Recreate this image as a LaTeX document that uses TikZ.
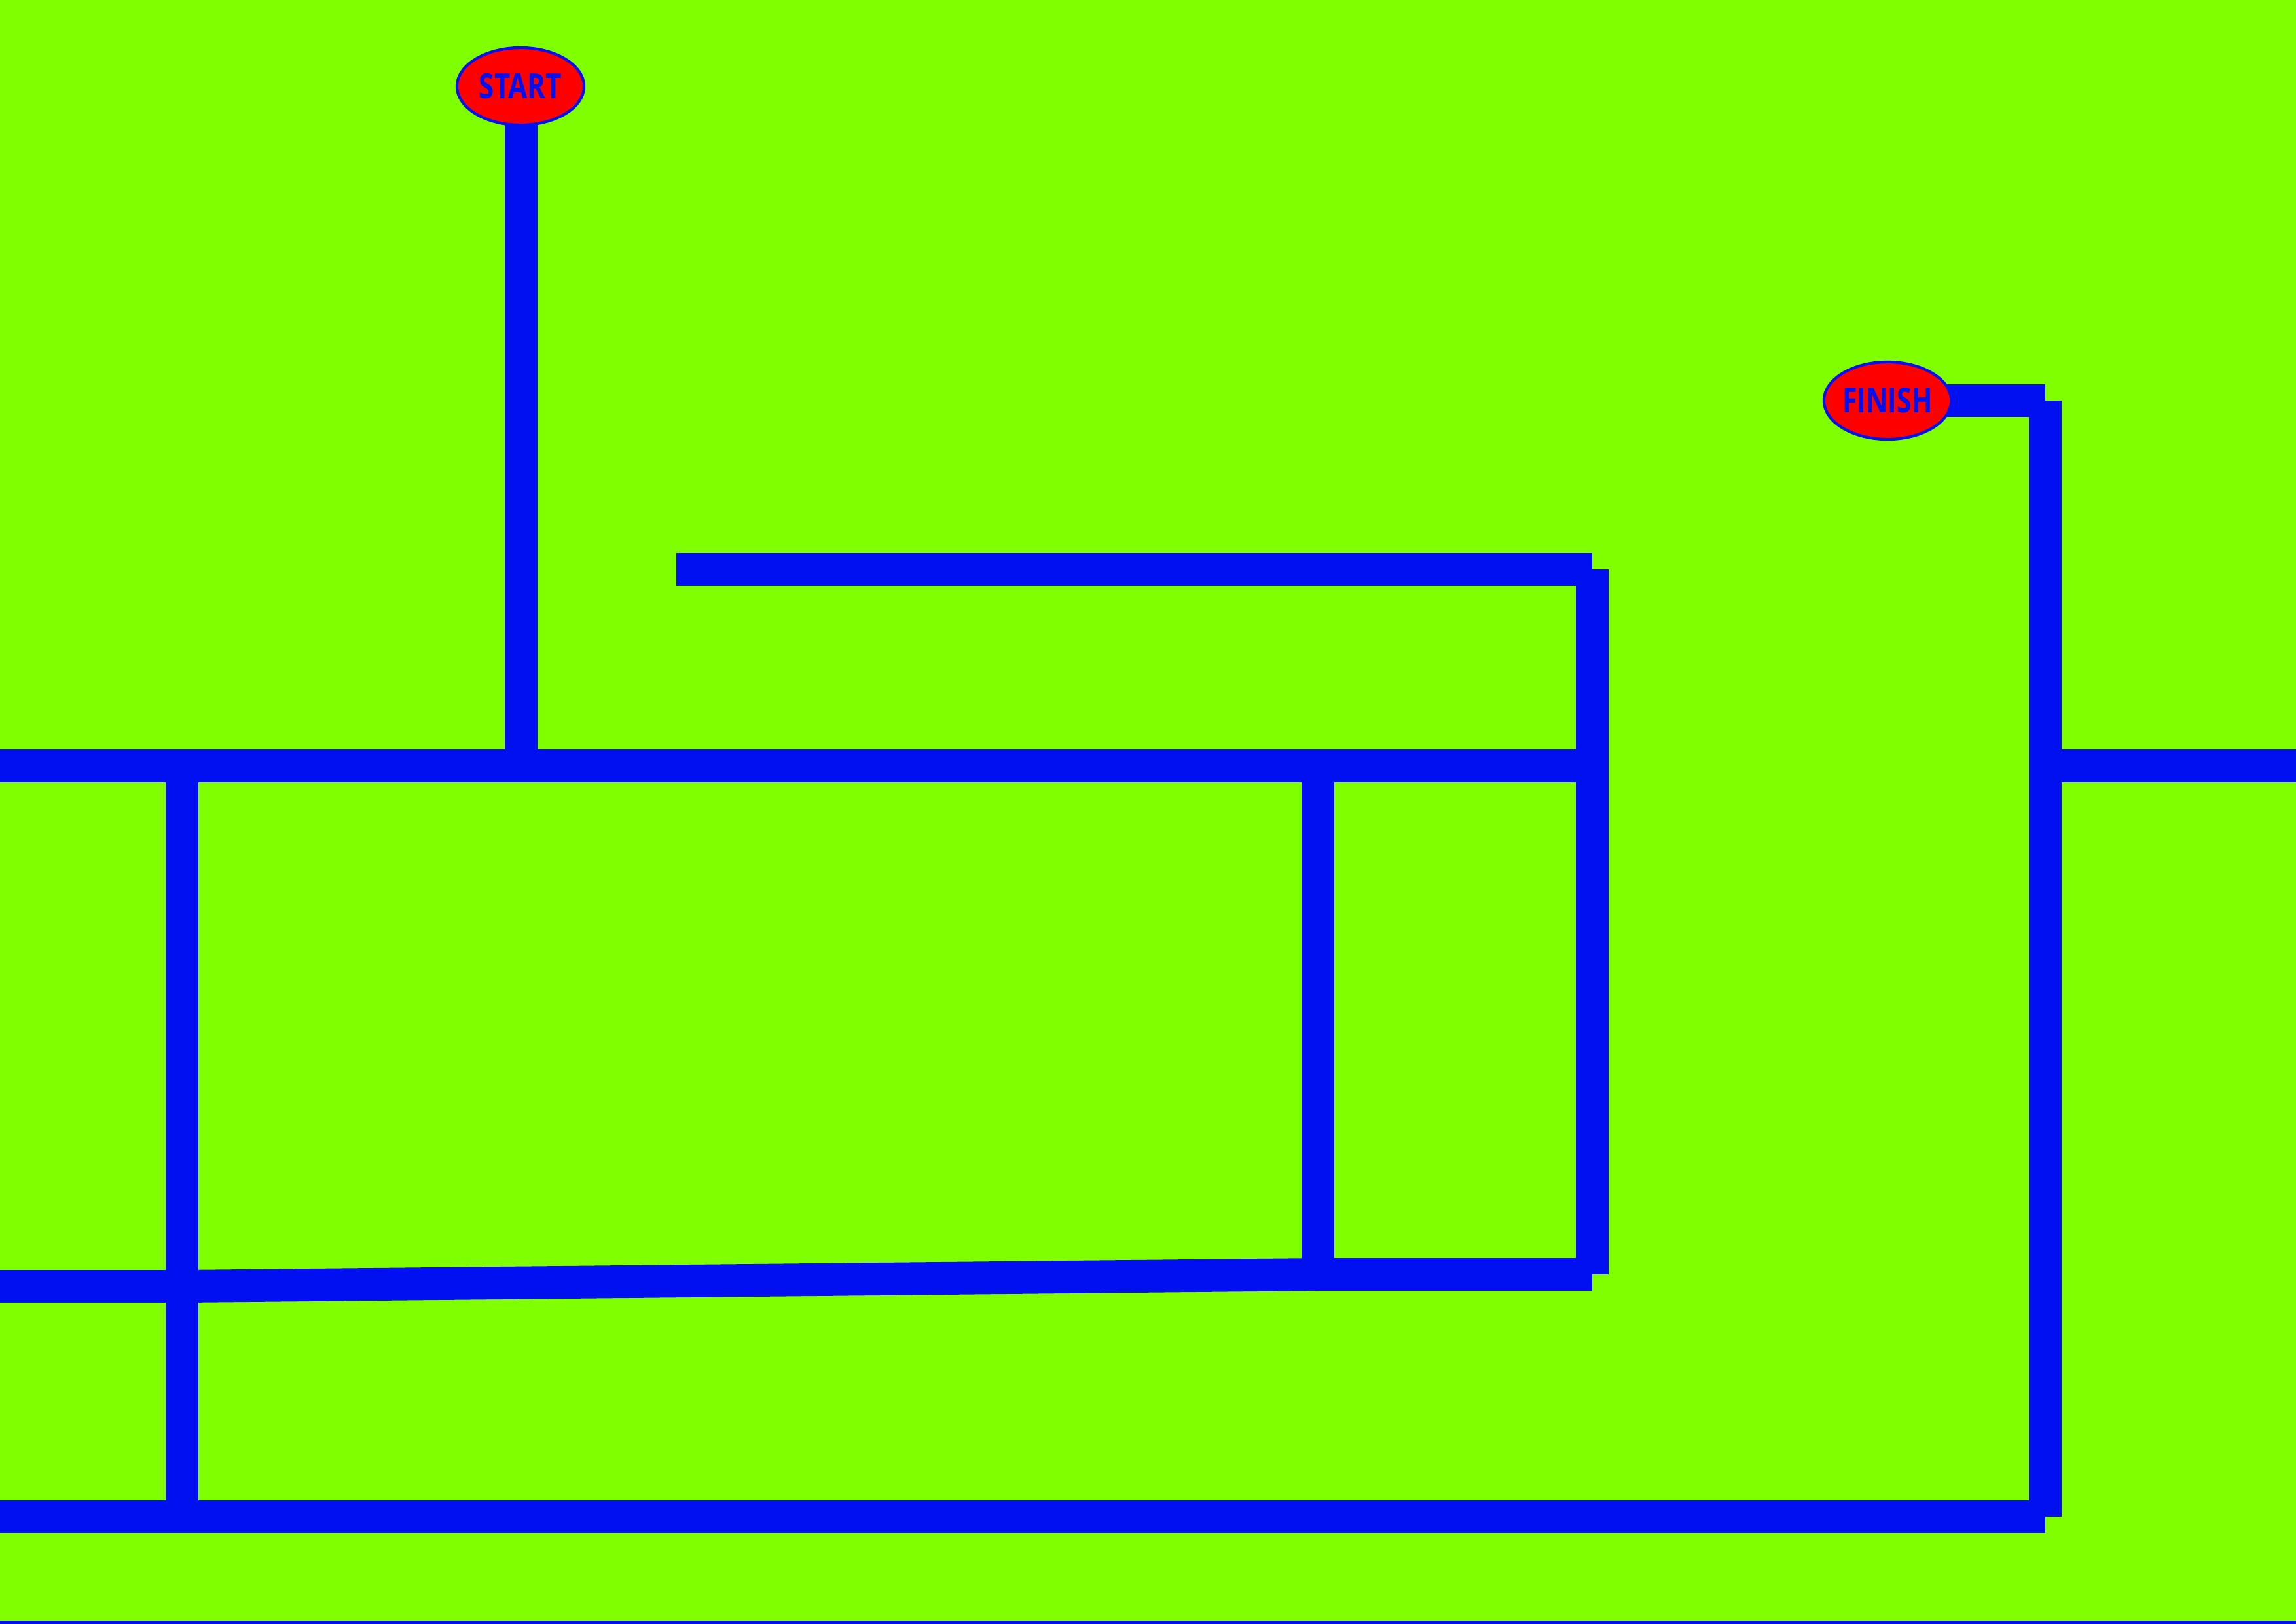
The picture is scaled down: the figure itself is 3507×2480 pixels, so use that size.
\documentclass[tikz,border=0pt]{standalone}
\usepackage{graphicx}
\usepackage{fontspec}
\usepackage{tikz}
\usetikzlibrary{shapes.geometric}
\newfontfamily\signfont{Open Sans}
\definecolor{MazeGreen}{RGB}{128,255,  0}
\definecolor{MazeBlue} {RGB}{  0, 16,240}
\definecolor{MazeRed}  {RGB}{255,  0,  0}

\begin{document}
\begin{tikzpicture}[x=0.01cm,y=-0.01cm,
      pipe/.style={draw=MazeBlue,line width=0.5cm,line cap=butt},
      sign/.style={ellipse,draw=MazeBlue,fill=MazeRed,line width=1.2pt,
                   inner sep=0pt,minimum width=1.94cm,minimum height=1.18cm,
                   text=MazeBlue,font=\signfont\bfseries\fontsize{15}{15}\selectfont}]
    \useasboundingbox (0,0) rectangle (3507,2480);
    \fill[MazeGreen] (0,0) rectangle (3507,2480);
    \draw[MazeBlue,line width=2pt] (0,2479) -- (3507,2479);
    % junctions
    \coordinate (Sc) at (795,132);
    \coordinate (Fc) at (2883,612);
    \coordinate (A)  at (796,1170);
    \coordinate (W1) at (0,1170);
    \coordinate (L1) at (278,1170);
    \coordinate (M1) at (2013,1170);
    \coordinate (R1) at (2432,1170);
    \coordinate (U0) at (1033,870);
    \coordinate (U1) at (2432,870);
    \coordinate (M2) at (2013,1947);
    \coordinate (R2) at (2432,1947);
    \coordinate (W2) at (0,1965);
    \coordinate (L2) at (278,1965);
    \coordinate (W3) at (0,2317);
    \coordinate (L3) at (278,2317);
    \coordinate (B)  at (3124,2317);
    \coordinate (FR) at (3124,612);
    \coordinate (E1) at (3124,1170);
    \coordinate (E2) at (3507,1170);
    % pipes
    \draw[pipe](Sc-|A)--(A);
    \draw[pipe](W1)--(L1);
    \draw[pipe](L1)--(A);
    \draw[pipe](A)--(M1);
    \draw[pipe](M1)--(R1);
    \draw[pipe](U0)--(U1);
    \draw[pipe](U1)--(R1);
    \draw[pipe](R1)--(R2);
    \draw[pipe](M1)--(M2);
    \draw[pipe](M2)--(R2);
    \draw[pipe](L2)--(M2);
    \draw[pipe](W2)--(L2);
    \draw[pipe](L1)--(L2);
    \draw[pipe](L2)--(L3);
    \draw[pipe](W3)--(L3);
    \draw[pipe](L3)--(B);
    \draw[pipe](B)--(FR);
    \draw[pipe](FR)--(Fc);
    \draw[pipe](E1)--(E2);
    % signs
    \node[sign](S) at (Sc){\scalebox{0.8}[1]{START}};
    \node[sign](F) at (Fc){\scalebox{0.78}[1]{FINISH}};
\end{tikzpicture}
\end{document}
